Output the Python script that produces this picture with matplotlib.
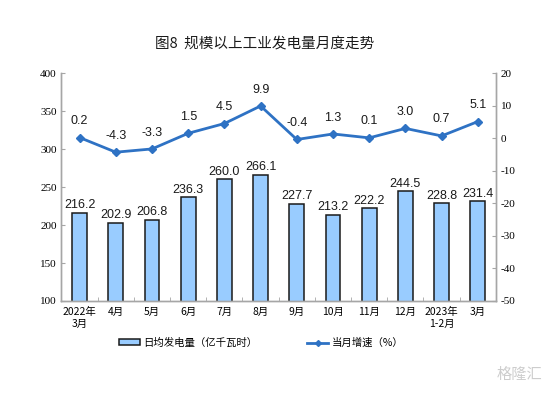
import matplotlib
matplotlib.use('Agg')
import matplotlib.pyplot as plt
import numpy as np
from matplotlib.lines import Line2D
from matplotlib.patches import Patch

plt.rcParams['font.family'] = ['Noto Sans CJK SC', 'DejaVu Sans']
plt.rcParams['axes.unicode_minus'] = False

months = ['2022年\n3月', '4月', '5月', '6月', '7月', '8月', '9月', '10月',
          '11月', '12月', '2023年\n1-2月', '3月']
daily_output = [216.2, 202.9, 206.8, 236.3, 260.0, 266.1, 227.7, 213.2,
                222.2, 244.5, 228.8, 231.4]
growth = [0.2, -4.3, -3.3, 1.5, 4.5, 9.9, -0.4, 1.3, 0.1, 3.0, 0.7, 5.1]

bar_color = '#99CCFF'
line_color = '#2E72C4'
axis_color = '#A6A6A6'

fig = plt.figure(figsize=(5.51, 3.95), dpi=100)
ax = fig.add_axes([0.1116, 0.238, 0.7884, 0.577])
x = np.arange(len(months))

ax.bar(x, daily_output, width=0.41, color=bar_color, edgecolor='#1a1a1a',
       linewidth=1.1, zorder=2)
for xi, v in zip(x, daily_output):
    ax.text(xi, v + 2, f'{v:.1f}', ha='center', va='bottom', fontsize=9,
            family='Liberation Sans', color='#1a1a1a')

ax.set_ylim(100, 400)
ax.set_xlim(-0.5, len(months) - 0.5)
ax.set_yticks(np.arange(100, 401, 50))
ax.set_xticks(x)
ax.set_xticklabels(months, fontsize=7.5, linespacing=1.3)
ax.set_xticks(np.arange(0.5, len(months) - 1, 1), minor=True)
ax.tick_params(axis='x', which='major', length=0, pad=4)
ax.tick_params(axis='x', which='minor', direction='in', length=3, color=axis_color)
ax.tick_params(axis='y', direction='in', length=3, color=axis_color, labelsize=8)
for lab in ax.get_yticklabels():
    lab.set_family('Liberation Serif')

ax2 = ax.twinx()
ax2.plot(x, growth, color=line_color, linewidth=2, marker='D', markersize=4,
         zorder=3)
for xi, v in zip(x, growth):
    ax2.text(xi, v + 3.2, f'{v:.1f}', ha='center', va='bottom', fontsize=9,
             family='Liberation Sans', color='#1a1a1a')
ax2.set_ylim(-50, 20)
ax2.set_yticks(np.arange(-50, 21, 10))
ax2.tick_params(axis='y', direction='in', length=3, color=axis_color, labelsize=8)
for lab in ax2.get_yticklabels():
    lab.set_family('Liberation Serif')

for a in (ax, ax2):
    a.spines['top'].set_visible(False)
    for s in ('left', 'right', 'bottom'):
        a.spines[s].set_color(axis_color)
        a.spines[s].set_linewidth(1.0)

fig.text(0.48, 0.89, '图8  规模以上工业发电量月度走势', ha='center', va='center',
         fontsize=10.5, color='#1a1a1a')

handles = [Patch(facecolor=bar_color, edgecolor='#1a1a1a', linewidth=1.1),
           Line2D([0], [0], color=line_color, linewidth=2, marker='D', markersize=3)]
fig.legend(handles, ['日均发电量（亿千瓦时）', '当月增速（%）'], loc='center',
           bbox_to_anchor=(0.474, 0.132), ncol=2, frameon=False, fontsize=7.5,
           handlelength=2.0, handleheight=0.5, handletextpad=0.3, columnspacing=4.8)

fig.text(0.985, 0.03, '格隆汇', ha='right', va='bottom', fontsize=11,
         color='#c8c8c8', alpha=0.9)

fig.savefig('out.png', dpi=100)
plt.close(fig)
